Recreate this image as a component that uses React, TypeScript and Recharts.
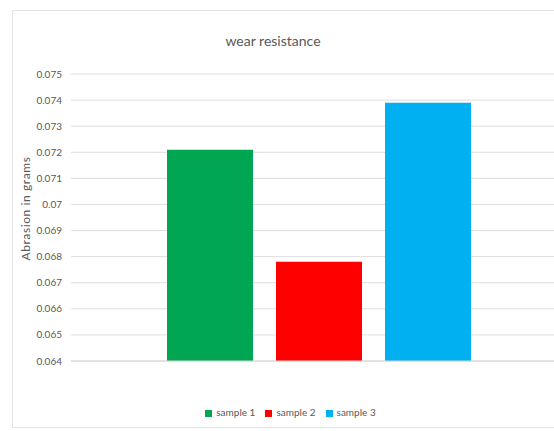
import React from "react";
import { BarChart, Bar, XAxis, YAxis, CartesianGrid, Legend } from "recharts";

// Abrasion loss (grams) for each sample
const seriesNames = ["sample 1", "sample 2", "sample 3"];
const abrasion = [0.0721, 0.0678, 0.0739];
const seriesColors = ["#00A651", "#FF0000", "#00B0F0"];
const yTicks = [0.064, 0.065, 0.066, 0.067, 0.068, 0.069, 0.07, 0.071, 0.072, 0.073, 0.074, 0.075];
const category = [""];

const keys = ["s1", "s2", "s3"];
const data = category.map((name) => {
  const row: Record<string, string | number> = { name };
  keys.forEach((k, i) => {
    row[k] = abrasion[i];
  });
  return row;
});

const FONT = "Lato, 'Open Sans', sans-serif";
const TEXT = "#595959";

export default function App() {
  return (
    <div
      style={{
        position: "absolute",
        left: 0,
        top: 0,
        width: 554,
        height: 431,
        overflow: "hidden",
        background: "#fff",
        fontFamily: FONT,
      }}
    >
      <div
        style={{
          position: "absolute",
          left: 12,
          top: 10,
          width: 600,
          height: 416,
          borderLeft: "1px solid #e3e3e3",
          borderTop: "1px solid #e3e3e3",
          borderBottom: "1px solid #e3e3e3",
        }}
      />
      <div
        style={{
          position: "absolute",
          left: 173,
          width: 200,
          top: 32,
          textAlign: "center",
          fontSize: 14,
          color: TEXT,
        }}
      >
        wear resistance
      </div>
      <div style={{ position: "absolute", left: 0, top: 0 }}>
        <BarChart
          width={600}
          height={431}
          data={data}
          margin={{ top: 74, right: 33, bottom: 13, left: 0 }}
          barGap={23}
          barSize={86}
        >
          <CartesianGrid vertical={false} stroke="#dedede" />
          <XAxis
            dataKey="name"
            tick={false}
            tickLine={false}
            axisLine={{ stroke: "#d6d6d6" }}
            height={45}
          />
          <YAxis
            width={71}
            domain={[0.064, 0.075]}
            ticks={yTicks}
            interval={0}
            axisLine={false}
            tickLine={false}
            tickMargin={3}
            tick={{ fontSize: 10, fill: TEXT, fontFamily: FONT }}
            label={{
              value: "Abrasion in grams",
              angle: -90,
              position: "center",
              dx: -10,
              dy: -9,
              style: { fontSize: 12, letterSpacing: 0.6, fill: TEXT, fontFamily: FONT },
            }}
          />
          <Legend
            iconType="square"
            iconSize={7}
            formatter={(value: string) => <span style={{ color: TEXT }}>{value}</span>}
            wrapperStyle={{ fontSize: 10, fontFamily: FONT, color: TEXT, left: 12 }}
          />
          {keys.map((k, i) => (
            <Bar
              key={k}
              dataKey={k}
              name={seriesNames[i]}
              fill={seriesColors[i]}
              isAnimationActive={false}
            />
          ))}
        </BarChart>
      </div>
    </div>
  );
}
